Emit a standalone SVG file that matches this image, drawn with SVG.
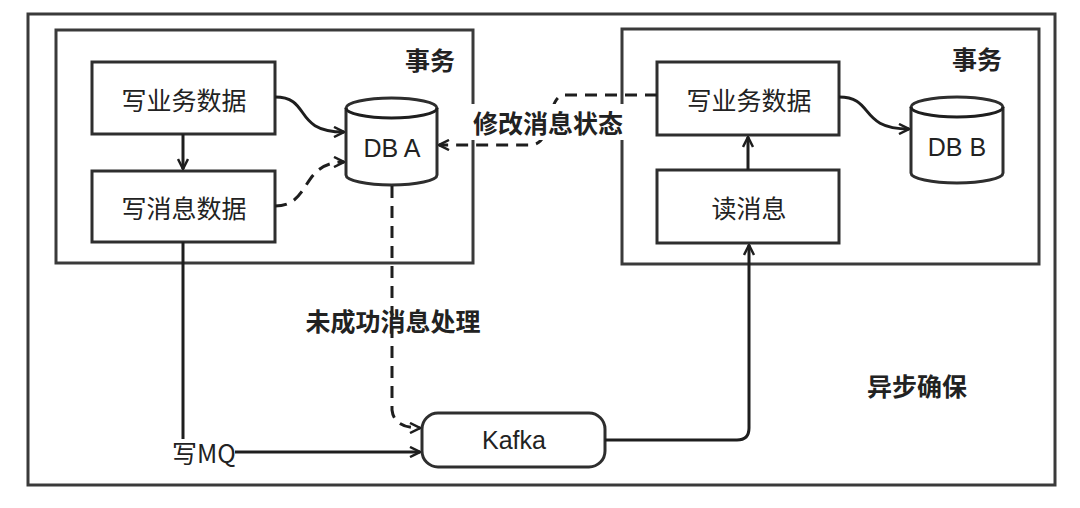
<svg xmlns="http://www.w3.org/2000/svg" width="1080" height="508" viewBox="0 0 1080 508">
<style>
.frame{fill:none;stroke:#3a3a3a;stroke-width:3}
.box{fill:#fff;stroke:#2e2e2e;stroke-width:3}
.edge{fill:none;stroke:#1e1e1e;stroke-width:3}
.dash{stroke-dasharray:12 8}
.t{font-family:"Noto Sans CJK SC","Liberation Sans",sans-serif;font-size:25px;fill:#222;text-anchor:middle;dominant-baseline:central}
.b{font-weight:bold;font-size:25px}
.lat{font-family:"Liberation Sans","Noto Sans CJK SC",sans-serif}
</style>
<defs>
<marker id="arr" viewBox="0 0 12 12" refX="11" refY="6" markerWidth="12" markerHeight="12" markerUnits="userSpaceOnUse" orient="auto">
<path d="M1,1 L11,6 L1,11" fill="none" stroke="#1e1e1e" stroke-width="2.5"/>
</marker>
</defs>
<rect width="1080" height="508" fill="#fff"/>
<g id="outer">
<rect class="frame" x="28" y="14" width="1027" height="471"/>
<text class="t b" x="917" y="385">异步确保</text>
</g>
<g id="tx-left">
<rect class="frame" x="56" y="30" width="417" height="233"/>
<text class="t b" x="430" y="59">事务</text>
</g>
<g id="tx-right">
<rect class="frame" x="622" y="29" width="417" height="235"/>
<text class="t b" x="977" y="58">事务</text>
</g>
<g id="write-biz-a">
<rect class="box" x="92" y="62" width="183" height="72"/>
<text class="t" x="184" y="99">写业务数据</text>
</g>
<g id="write-msg">
<rect class="box" x="92" y="171" width="183" height="71"/>
<text class="t" x="184" y="207">写消息数据</text>
</g>
<g id="db-a">
<path class="box" d="M346,108 A45.5,10 0 0 1 437,108 L437,175 A45.5,10 0 0 1 346,175 Z"/>
<path class="edge" stroke-width="2.5" d="M346,108 A45.5,10 0 0 0 437,108"/>
<text class="t lat" x="392" y="148" font-size="25">DB A</text>
</g>
<g id="write-biz-b">
<rect class="box" x="657" y="62" width="182" height="73"/>
<text class="t" x="749" y="99">写业务数据</text>
</g>
<g id="read-msg">
<rect class="box" x="657" y="170" width="182" height="73"/>
<text class="t" x="749" y="207">读消息</text>
</g>
<g id="db-b">
<path class="box" d="M911,107 A46,10 0 0 1 1003,107 L1003,173 A46,10 0 0 1 911,173 Z"/>
<path class="edge" stroke-width="2.5" d="M911,107 A46,10 0 0 0 1003,107"/>
<text class="t lat" x="957" y="147" font-size="25">DB B</text>
</g>
<g id="kafka">
<rect class="box" x="422" y="413" width="183" height="54" rx="16"/>
<text class="t lat" x="514" y="440" font-size="24">Kafka</text>
</g>
<g id="connectors">
<path class="edge" d="M183,134 L183,169" marker-end="url(#arr)"/>
<path class="edge" d="M275,97 C312,97 292,132 344,132" marker-end="url(#arr)"/>
<path class="edge dash" d="M275,206 C312,206 300,162 344,162" marker-end="url(#arr)"/>
<path class="edge dash" d="M392,186 L392,410 Q394,428 420,428" marker-end="url(#arr)"/>
<path class="edge" d="M183,242 L183,452 L420,452" marker-end="url(#arr)"/>
<path class="edge" d="M605,440 L737,440 Q749,440 749,428 L749,245" marker-end="url(#arr)"/>
<path class="edge" d="M748,170 L748,137" marker-end="url(#arr)"/>
<path class="edge" d="M839,97 C875,97 858,129 909,129" marker-end="url(#arr)"/>
<path class="edge dash" d="M657,95 L565,95 C545,95 555,145 530,145 L439,145" marker-end="url(#arr)"/>
<rect x="471" y="104" width="153" height="36" fill="#fff"/>
<text class="t b" x="548" y="122">修改消息状态</text>
<text class="t b" x="393" y="320">未成功消息处理</text>
<rect x="173" y="439" width="62" height="26" fill="#fff"/>
<text class="t" x="204" y="452" font-size="20">写MQ</text>
</g>
</svg>
